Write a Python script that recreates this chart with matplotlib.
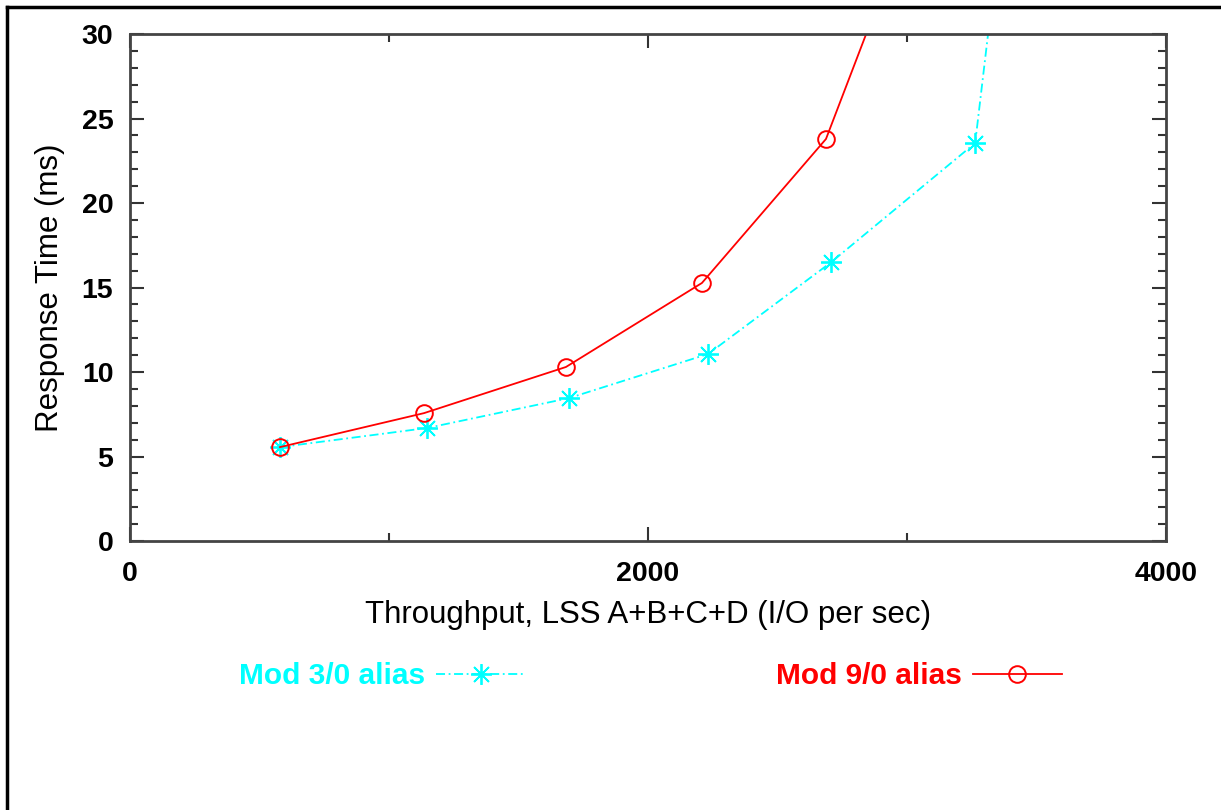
import matplotlib.pyplot as plt
from matplotlib.lines import Line2D
from matplotlib.ticker import MultipleLocator

# throughput (I/O per sec) and response time (ms)
mod3_x = [579, 1147, 1695, 2232, 2707, 3263, 3390]
mod3_y = [5.56, 6.69, 8.46, 11.07, 16.5, 23.55, 40.0]
mod9_x = [579, 1135, 1683, 2208, 2687, 3092]
mod9_y = [5.56, 7.57, 10.3, 15.27, 23.79, 40.0]

labels = ['Mod 3/0 alias', 'Mod 9/0 alias']
colors = ['#00ffff', '#ff0000']

plt.rcParams['font.family'] = ['Liberation Sans', 'DejaVu Sans']

fig = plt.figure(figsize=(12.21, 8.1), dpi=100)
ax = fig.add_axes([0.1065, 0.332, 0.8485, 0.626])

ax.plot(mod3_x, mod3_y, color=colors[0], lw=1.3, ls=(0, (5, 2, 1, 2)),
        marker=(8, 2, 0), ms=15, mew=1.3, label=labels[0])
ax.plot(mod9_x, mod9_y, color=colors[1], lw=1.3, ls='-',
        marker='o', ms=12, mfc='none', mew=1.4, label=labels[1])

ax.set_xlim(0, 4000)
ax.set_ylim(0, 30)
ax.xaxis.set_major_locator(MultipleLocator(2000))
ax.xaxis.set_minor_locator(MultipleLocator(1000))
ax.yaxis.set_major_locator(MultipleLocator(5))
ax.yaxis.set_minor_locator(MultipleLocator(1))
ax.tick_params(which='both', direction='in', top=True, right=True, width=1.5, color='#333333')
ax.tick_params(which='major', length=10)
ax.tick_params(which='minor', length=6)
ax.tick_params(axis='x', which='major', pad=14)
ax.tick_params(axis='y', which='major', pad=12)
for lab in ax.get_xticklabels() + ax.get_yticklabels():
    lab.set_fontweight('bold')
    lab.set_fontsize(20.5)
for s in ax.spines.values():
    s.set_linewidth(2)
    s.set_color('#444444')

ax.set_xlabel('Throughput, LSS A+B+C+D (I/O per sec)', fontsize=22.5, labelpad=10)
ax.set_ylabel('Response Time (ms)', fontsize=22.5, labelpad=12)

fig.legend(loc='center', bbox_to_anchor=(0.533, 0.165), ncol=2, frameon=False,
           markerfirst=False, handlelength=3.0, handletextpad=0.35, columnspacing=8.4,
           prop={'size': 21.5, 'weight': 'bold'}, labelcolor='linecolor')

# partial frame around the figure (top and left edges)
fig.add_artist(Line2D([0.0057, 1.0], [0.9914, 0.9914], color='black', lw=2.5))
fig.add_artist(Line2D([0.0057, 0.0057], [0.0, 0.9914], color='black', lw=2.5))

fig.savefig('out.png', dpi=100)
